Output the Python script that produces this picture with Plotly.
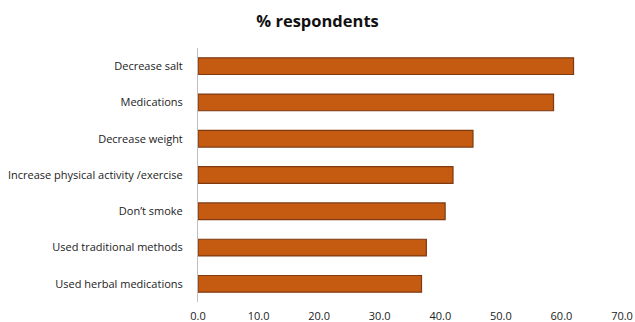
import plotly.graph_objects as go

categories = ["Decrease salt", "Medications", "Decrease weight",
              "Increase physical activity /exercise", "Don’t smoke",
              "Used traditional methods", "Used herbal medications"]
values = [62.0, 58.7, 45.4, 42.1, 40.8, 37.7, 36.9]
tick_vals = [0, 10, 20, 30, 40, 50, 60, 70]
tick_text = ["0.0", "10.0", "20.0", "30.0", "40.0", "50.0", "60.0", "70.0"]

fig = go.Figure()
fig.add_trace(go.Bar(
    x=values, y=categories, orientation="h",
    marker=dict(color="#C55A11", line=dict(color="#7F3A12", width=1.2)),
    width=0.46,
))
fig.update_layout(
    width=635, height=322,
    margin=dict(l=198, r=13, t=48, b=20),
    paper_bgcolor="white", plot_bgcolor="white",
    title=dict(text="<b>% respondents</b>", x=0.5, xanchor="center",
               y=0.935, yanchor="middle",
               font=dict(family="Open Sans", size=16.5, color="#111")),
    showlegend=False,
    font=dict(family="Open Sans", size=11, color="#222"),
)
fig.update_xaxes(range=[0, 70], tickvals=tick_vals, ticktext=tick_text,
                 showgrid=False, zeroline=False, showline=False,
                 ticks="", ticklabelstandoff=6, automargin=False,
                 tickfont=dict(family="Open Sans", size=11, color="#222"))
fig.update_yaxes(autorange="reversed", showgrid=False, zeroline=False,
                 showline=True, linecolor="#BFBFBF", linewidth=1,
                 ticks="", ticklabelstandoff=12, automargin=False,
                 tickfont=dict(family="Open Sans", size=11, color="#222"))
fig.write_html("out.html")
